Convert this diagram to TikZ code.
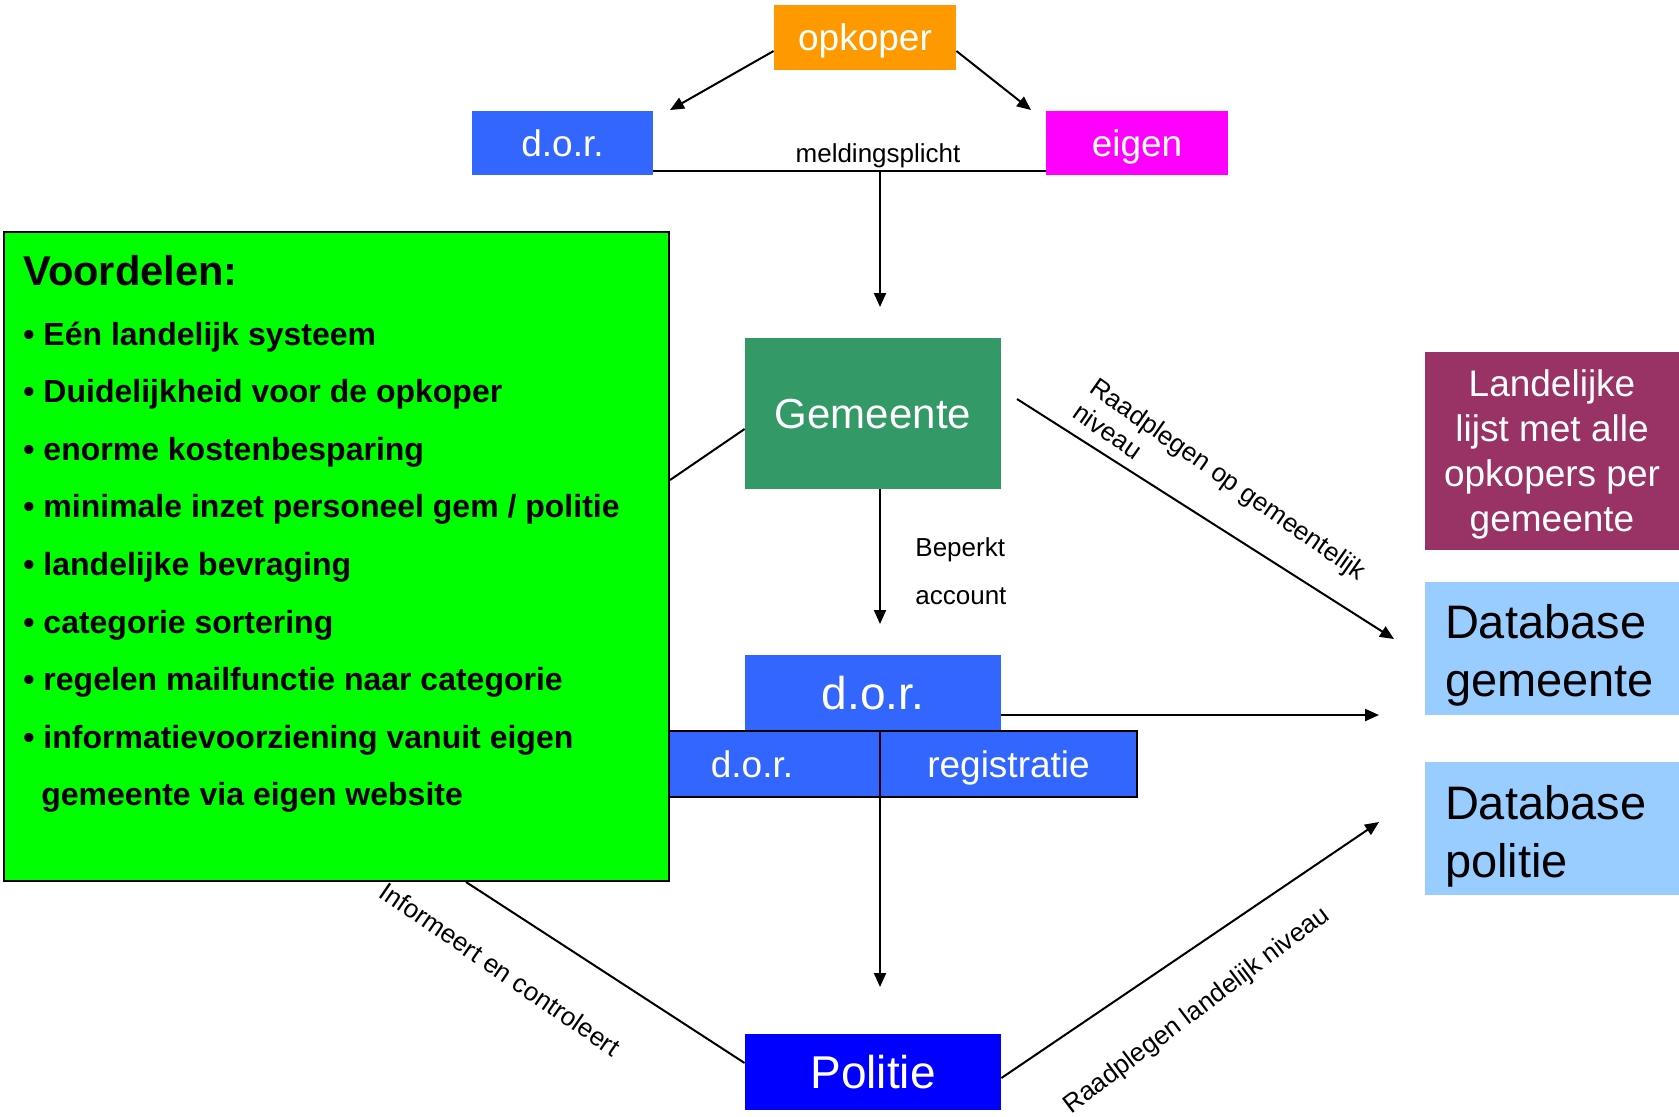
\documentclass[tikz,border=0pt]{standalone}
\usepackage{fontspec}
\setmainfont{Liberation Sans}
\usetikzlibrary{arrows.meta,calc}
\definecolor{cOrange}{HTML}{FF9900}
\definecolor{cBlue}{HTML}{3366FF}
\definecolor{cMag}{HTML}{FF00FF}
\definecolor{cGreen}{HTML}{00FF00}
\definecolor{cGem}{HTML}{339966}
\definecolor{cPol}{HTML}{0000FF}
\definecolor{cLand}{HTML}{993366}
\definecolor{cDb}{HTML}{99CCFF}
\newcommand\fsz[2]{\fontsize{#1pt}{#2pt}\selectfont}
\begin{document}
\begin{tikzpicture}[x=0.5pt,y=-0.5pt,
  box/.style={inner sep=0pt, text depth=0pt, text=white, font=\fsz{18.5}{22}},
  dbbox/.style={fill=cDb, inner sep=0pt, minimum width=127pt, minimum height=66.5pt},
  dbtext/.style={inner xsep=10pt, inner ysep=0pt, text width=107pt, align=left, font=\fsz{23.5}{29}},
  conn/.style={line width=1pt},
  arr/.style={line width=1pt,-{Triangle[length=7pt,width=6pt]}},
  lbl/.style={font=\fsz{13}{15}, inner sep=0pt},
  vline/.style={anchor=base west, inner sep=0pt, font=\fsz{16}{19}\bfseries}]
\useasboundingbox (0,0) rectangle (1679,1116);

% top
\node[box, fill=cOrange, minimum width=91pt, minimum height=32.5pt] (opk) at (865,37.5) {opkoper};
\node[box, fill=cBlue, minimum width=90.5pt, minimum height=32pt] (dor1) at (562.5,143) {d.o.r.};
\node[box, fill=cMag, minimum width=91pt, minimum height=32pt] (eig) at (1137,143) {eigen};
\coordinate (dorin) at (670,110);
\coordinate (eigin) at (1031,110);
\draw[arr] (opk.west |- 0,51) -- (dorin);
\draw[arr] (opk.east |- 0,51) -- (eigin);
\coordinate (jn) at (880,171);
\draw[conn] (dor1.east |- jn) -- (eig.west |- jn);
\node[lbl] (meld) at (878,156) {meldingsplicht};
\coordinate (gemin) at (880,307);
\draw[arr] (jn) -- (gemin);

% green box
\node[draw=black, line width=1pt, fill=cGreen, minimum width=332.5pt, minimum height=324.5pt, inner sep=0pt] (voor) at (336.5,556.5) {};
\node[anchor=base west, inner sep=0pt, font=\fsz{20.8}{25}\bfseries] (vh) at (23,285) {Voordelen:};
\node[vline] (v1) at (23,345) {• Eén landelijk systeem};
\node[vline] (v2) at (23,402) {• Duidelijkheid voor de opkoper};
\node[vline] (v3) at (23,460) {• enorme kostenbesparing};
\node[vline] (v4) at (23,517) {• minimale inzet personeel gem / politie};
\node[vline] (v5) at (23,575) {• landelijke bevraging};
\node[vline] (v6) at (23,633) {• categorie sortering};
\node[vline] (v7) at (23,690) {• regelen mailfunctie naar categorie};
\node[vline] (v8) at (23,748) {• informatievoorziening vanuit eigen};
\node[vline] (v9) at (41,805) {gemeente via eigen website};

% Gemeente
\node[box, fill=cGem, minimum width=128pt, minimum height=75.5pt, font=\fsz{21}{25}] (gem) at (873,413.5) {Gemeente};
\draw[conn] (voor.east |- 0,480) -- (gem.west |- 0,429);
\coordinate (dorin2) at (880,624);
\draw[arr] (gem.south -| jn) -- (dorin2);
\node[lbl, align=left, anchor=west, font=\fsz{13}{24}] (bep) at (915,571) {Beperkt\\account};

% d.o.r. registration
\node[box, fill=cBlue, minimum width=128pt, minimum height=38pt, font=\fsz{23}{27}] (dor2) at (873,693) {d.o.r.};
\node[box, fill=cBlue, draw=black, line width=1pt, minimum width=105.5pt, minimum height=33pt] (barL) at (774.5,764) {};
\node[box] (barLt) at (752,764) {d.o.r.};
\node[box, fill=cBlue, draw=black, line width=1pt, minimum width=128.5pt, minimum height=33pt] (barR) at (1008.5,764) {registratie};
\coordinate (polin) at (880,987);
\draw[arr] (polin |- barL.north) -- (polin);
\coordinate (dbgin) at (1379,715);
\draw[arr] (dor2.east |- dbgin) -- (dbgin);

% Politie
\node[box, fill=cPol, minimum width=128pt, minimum height=38pt, font=\fsz{23}{27}] (pol) at (873,1072) {Politie};
\draw[conn] (voor.south -| 466,0) -- (pol.west |- 0,1063);
\node[lbl, rotate=-34.5] (inf) at (500,969) {Informeert en controleert};
\coordinate (dbpin) at (1379,822);
\draw[arr] (pol.east |- 0,1078) -- (dbpin);
\node[lbl, rotate=37] (rln) at (1197,1011) {Raadplegen landelijk niveau};

% Gemeente -> database
\coordinate (gemout) at (1017,399);
\coordinate (dbgin2) at (1394,639);
\draw[arr] (gemout) -- (dbgin2);
\node[lbl, align=left, rotate=-35] (rgn) at (1220,491) {Raadplegen op gemeentelijk\\niveau};

% right column
\node[box, fill=cLand, minimum width=127pt, minimum height=99pt, align=center, font=\fsz{18.5}{22.5}] (land) at (1552,451) {Landelijke\\lijst met alle\\opkopers per\\gemeente};
\node[dbbox] (dbg) at (1552,648.5) {};
\node[dbtext] (dbgt) at (1552,655) {Database\\gemeente};
\node[dbbox] (dbp) at (1552,828.5) {};
\node[dbtext] (dbpt) at (1552,836) {Database\\politie};
\end{tikzpicture}
\end{document}
